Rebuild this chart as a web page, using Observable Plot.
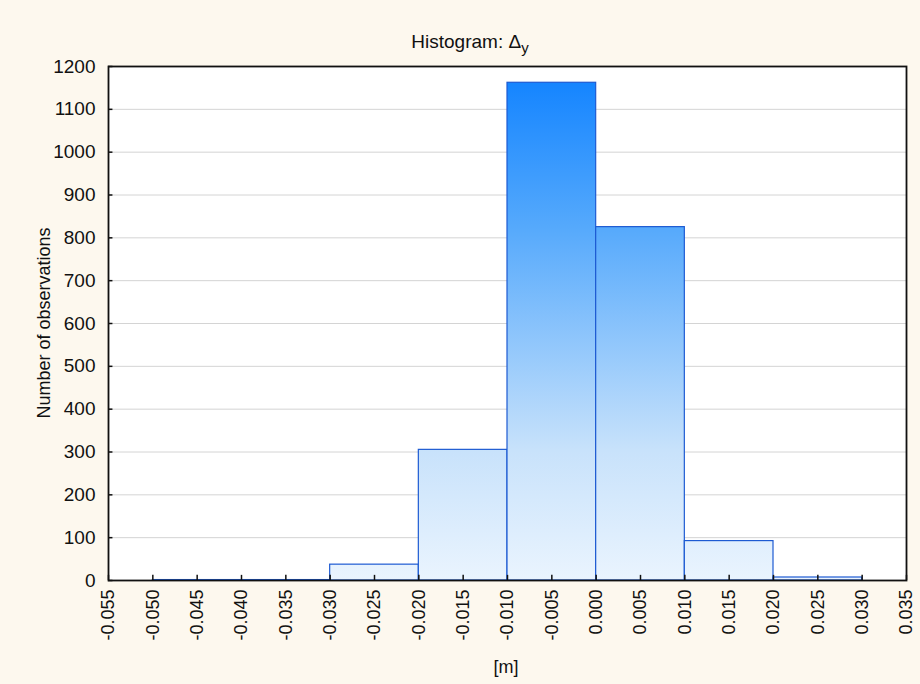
<!DOCTYPE html>
<html>
<head>
<meta charset="utf-8">
<script src="https://cdn.jsdelivr.net/npm/d3@7"></script>
<script src="https://cdn.jsdelivr.net/npm/@observablehq/plot@0.6"></script>
<style>
  html, body { margin: 0; padding: 0; background: #fdf8ee; }
  #chart { width: 920px; height: 684px; }
</style>
</head>
<body>
<div id="chart"></div>
<script>
// Data (bins of width 0.01 m)
const binStart = [-0.05, -0.04, -0.03, -0.02, -0.01, 0.00, 0.01, 0.02];
const binEnd   = [-0.04, -0.03, -0.02, -0.01, 0.00, 0.01, 0.02, 0.03];
const counts   = [1, 1, 37, 305, 1162, 825, 92, 7];
const xTicks = d3.range(-55, 36, 5).map(d => d / 1000);
const yTicks = d3.range(0, 1201, 100);
const titleMain = "Histogram: Δ";
const titleSub = "y";
const xLabel = "[m]";
const yLabel = "Number of observations";

const bins = binStart.map((s, i) => ({x1: s, x2: binEnd[i], y: counts[i]}));

const gradientDefs = (index, scales) => {
  const y0 = scales.y(1162), y1 = scales.y(0);
  const g = d3.create("svg:defs");
  const lg = g.append("linearGradient")
    .attr("id", "barGrad").attr("gradientUnits", "userSpaceOnUse")
    .attr("x1", 0).attr("x2", 0).attr("y1", y0).attr("y2", y1);
  [[0, "#1585ff"], [0.29, "#55a9fc"], [0.74, "#c8e2fb"], [1, "#eaf4fe"]]
    .forEach(([o, c]) => lg.append("stop").attr("offset", o).attr("stop-color", c));
  return g.node();
};

const tickLenY = 0.0005;
const chart = Plot.plot({
  width: 920,
  height: 684,
  marginTop: 66,
  marginBottom: 104,
  marginLeft: 108,
  marginRight: 14,
  style: {background: "#fdf8ee", fontFamily: "'Liberation Sans', Arial, sans-serif", fontSize: "18px", color: "#111"},
  x: {domain: [-0.055, 0.035]},
  y: {domain: [0, 1200]},
  marks: [
    gradientDefs,
    Plot.frame({fill: "white", stroke: null}),
    Plot.gridY(yTicks, {stroke: "#d4d4d4", strokeOpacity: 1}),
    Plot.rectY(bins, {x1: "x1", x2: "x2", y: "y", fill: "url(#barGrad)", stroke: "#1d5ad2", strokeWidth: 1.2, inset: 0}),
    Plot.ruleX(xTicks, {y1: 0, y2: 12, stroke: "#111", strokeWidth: 1.5}),
    Plot.ruleY(yTicks, {x1: -0.055, x2: -0.055 + tickLenY, stroke: "#111", strokeWidth: 1.5}),
    Plot.axisY(yTicks, {tickSize: 0, tickPadding: 13, tickFormat: d3.format("d"), label: null, fontSize: 19}),
    Plot.axisX(xTicks, {tickSize: 0, tickPadding: 9, tickRotate: -90, tickFormat: d => d.toFixed(3), label: null, fontSize: 18}),
    Plot.frame({stroke: "#111", strokeWidth: 1.8})
  ]
});

const svg = d3.select(chart);
const t = svg.append("text")
  .attr("x", 470).attr("y", 48)
  .attr("text-anchor", "middle")
  .attr("font-size", 19)
  .attr("fill", "#111")
  .text(titleMain);
t.append("tspan").attr("font-size", 15).attr("dy", 5).text(titleSub);

svg.append("text")
  .attr("transform", "translate(50,323) rotate(-90)")
  .attr("text-anchor", "middle")
  .attr("font-size", 18)
  .attr("fill", "#111")
  .text(yLabel);

svg.append("text")
  .attr("x", 506).attr("y", 673)
  .attr("text-anchor", "middle")
  .attr("font-size", 18)
  .attr("fill", "#111")
  .text(xLabel);

document.getElementById("chart").appendChild(chart);
</script>
</body>
</html>
